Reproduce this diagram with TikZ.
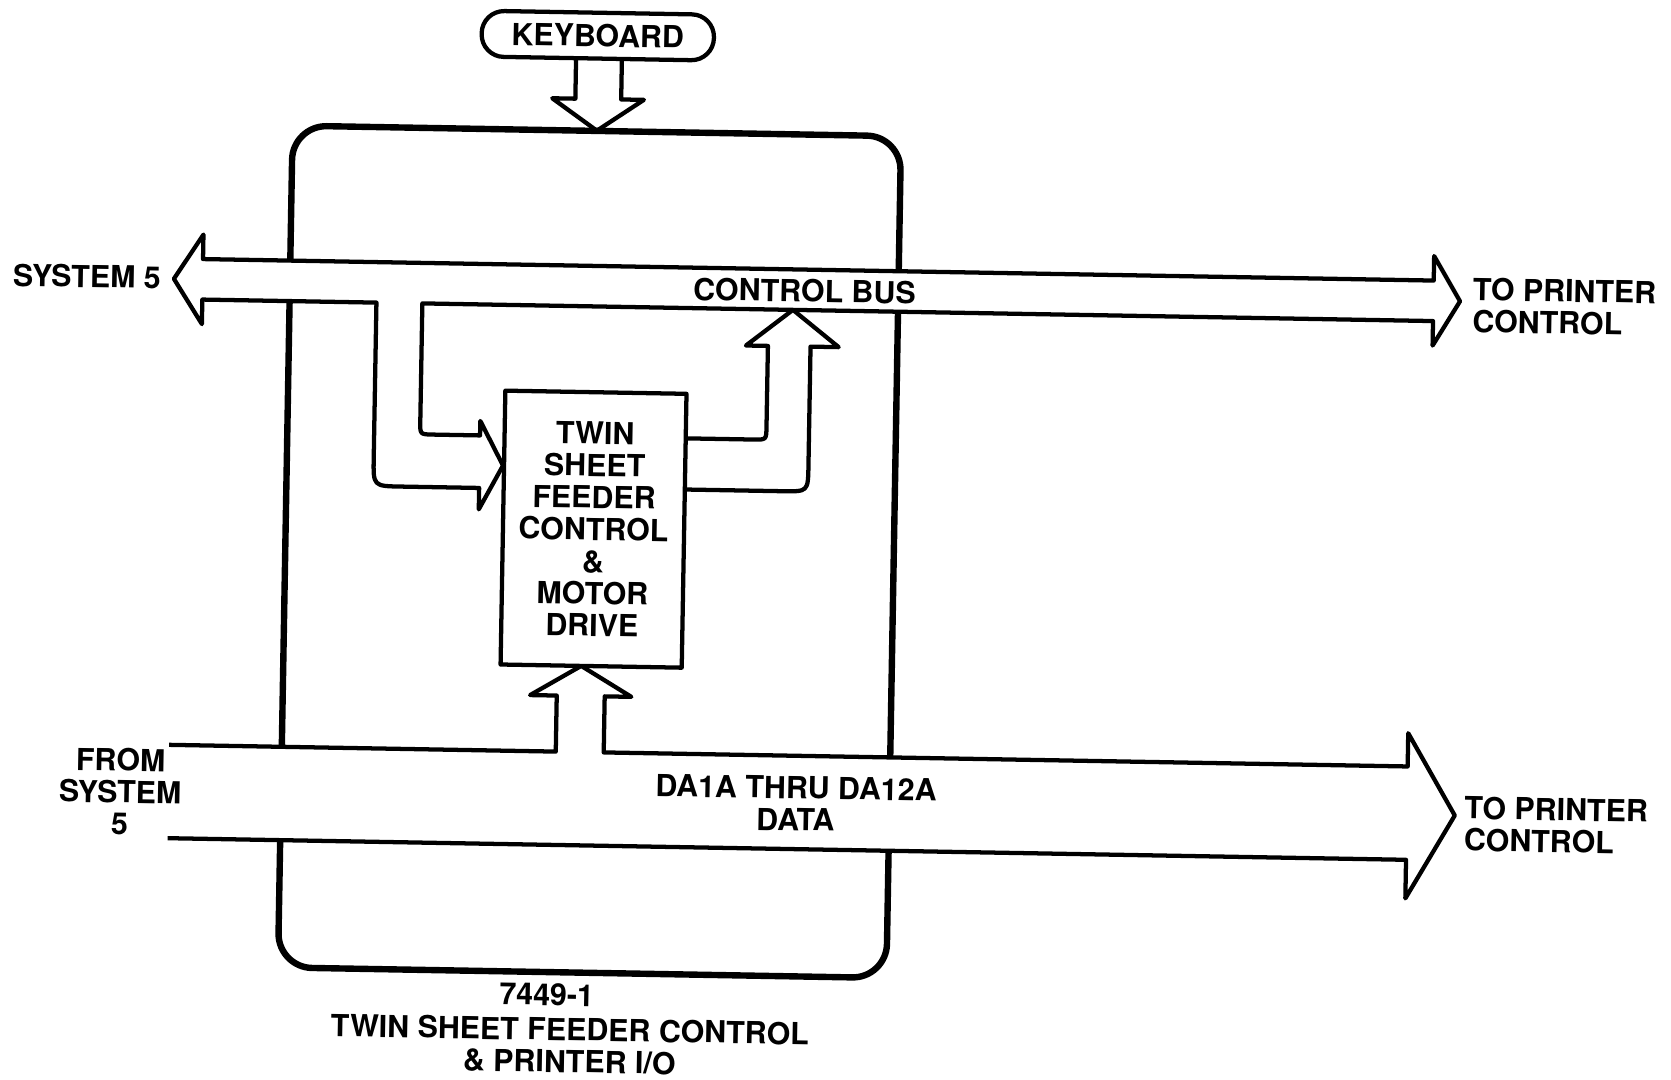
\documentclass[tikz,border=0pt]{standalone}
\usepackage{fontspec}
\setmainfont{TeX Gyre Heros}

\begin{document}
\begin{tikzpicture}[x=1pt, y=-1pt, line width=4pt, line join=round,
  lbl/.style={font=\fontsize{28.5}{30}\selectfont\bfseries, inner sep=0pt, align=center},
  fat/.style={draw, fill=white}]
  \useasboundingbox (0,0) rectangle (1568,1013);
  % the scanned sheet sits about one degree off square
  \begin{scope}[rotate around={-1:(784,507)}, transform shape]
    % Printer I/O card
    \node[draw, line width=6pt, rounded corners=32pt, minimum width=571pt, minimum height=790pt] (card) at (553.4,521.8) {};
    % Keyboard and its input arrow
    \node[lbl, draw, rounded corners=21pt, minimum width=218pt, minimum height=43pt] (kbd) at (552.7,37.4) {KEYBOARD};
    \draw (532.7,58.9) -- (532.7,96.9) -- (511,96.9) -- (553.4,126.6) -- (597,96.9) -- (575.7,96.9) -- (575.7,58.9);
    % Feeder control block
    \node[lbl, draw, minimum width=170pt, minimum height=257pt] (tsf) at (556.8,500.5)
      {TWIN\\SHEET\\FEEDER\\CONTROL\\\&\\MOTOR\\DRIVE};
    % Control bus, with the branch down into the block
    \path[fat] (159,272.5) -- (186,230.5) -- (186,253.5) -- (1341,253.5) -- (1341,230.5) -- (1366,272.5)
      -- (1341,314.5) -- (1341,291.5) -- (392.5,291.5) -- (392.5,402.4) .. controls (392.5,414.4) .. (404.5,414.4)
      -- (448.8,414.4) -- (448.8,400.8) -- (470.8,442.3) -- (448.8,483.8) -- (448.8,463.7)
      -- (375.4,463.7) .. controls (349.4,463.7) .. (349.4,437.7) -- (349.4,291.5) -- (186,291.5) -- (186,314.5) -- cycle;
    % Block back up to the control bus
    \draw (641.8,413.8) -- (705.4,413.8) .. controls (717.4,413.8) .. (717.4,401.8) -- (717.4,325.7) -- (696.8,325.7)
      -- (740.3,291.5) -- (783.8,325.7) -- (757.4,325.7) -- (757.4,437.8) .. controls (757.4,461.8) .. (733.4,461.8) -- (641.8,461.8);
    % Data bus, with the branch up into the block
    \path[fat] (162.2,709.8) -- (525,709.8) -- (525,657.2) -- (500,657.2) -- (547.5,629) -- (595,657.2) -- (570,657.2)
      -- (570,709.8) -- (1324.5,709.8) -- (1324.5,678.6) -- (1369.5,755) -- (1324.5,833.6) -- (1324.5,797.4) -- (162.2,797.4);
    % Labels
    \node[lbl] (cbus) at (750.9,273.5) {CONTROL BUS};
    \node[lbl] (data) at (751,754.7) {DA1A THRU DA12A\\DATA};
    \node[lbl, anchor=east] (sys) at (148.7,271.5) {SYSTEM 5};
    \node[lbl, anchor=west, align=left] (prt) at (1376,276) {TO PRINTER\\CONTROL};
    \node[lbl] (from) at (117,754.7) {FROM\\SYSTEM\\5};
    \node[lbl, anchor=west, align=left] (prtdata) at (1376.6,762.7) {TO PRINTER\\CONTROL};
    \node[lbl] (partno) at (520.5,938) {7449-1};
    \node[lbl] (caption) at (542.8,985.5) {TWIN SHEET FEEDER CONTROL\\\& PRINTER I/O};
  \end{scope}
\end{tikzpicture}
\end{document}
